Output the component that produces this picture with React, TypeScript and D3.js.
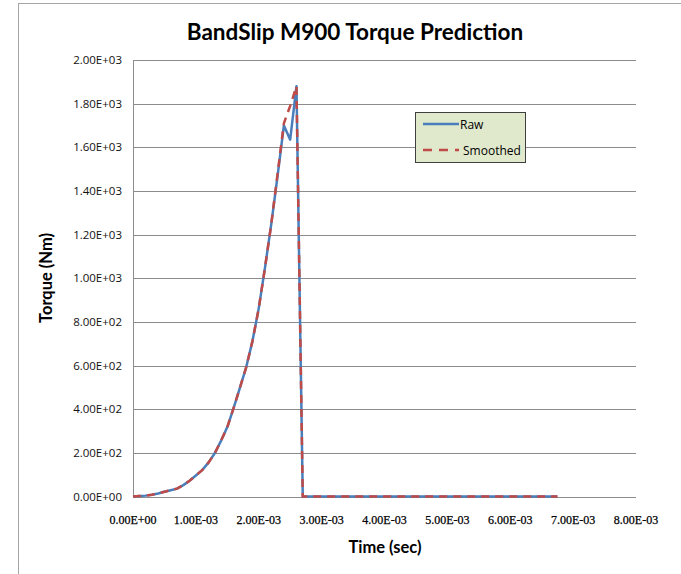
import * as d3 from 'd3';
import { useEffect, useRef } from 'react';

// time (sec) of each sample
const times = [
    0, 0.0001, 0.0002, 0.0003, 0.0004, 0.0005, 0.0006, 0.0007, 0.0008, 0.0009,
    0.0010, 0.0011, 0.0012, 0.0013, 0.0014, 0.0015, 0.0016, 0.0017, 0.0018, 0.0019,
    0.0020, 0.0021, 0.0022, 0.0023, 0.0024, 0.0025, 0.0026, 0.0027, 0.00675,
];
// torque (Nm)
const rawTorque = [
    0, 2, 4, 8, 14, 22, 29, 36, 52, 72,
    96, 121, 155, 198, 255, 318, 405, 498, 592, 712,
    862, 1050, 1250, 1470, 1700, 1635, 1880, 0, 0,
];
const smoothedTorque = [
    0, 2, 4, 8, 14, 22, 29, 36, 52, 72,
    96, 121, 155, 198, 255, 318, 405, 498, 592, 712,
    862, 1050, 1250, 1480, 1710, 1790, 1880, 0, 0,
];
const xTicks = [0, 0.001, 0.002, 0.003, 0.004, 0.005, 0.006, 0.007, 0.008];
const yTicks = [0, 200, 400, 600, 800, 1000, 1200, 1400, 1600, 1800, 2000];
const seriesNames = ['Raw', 'Smoothed'];

const BLUE = '#4a7ebb';
const RED = '#be4b48';

export default function App() {
    const ref = useRef<any>();

    useEffect(() => {
        const svg = d3.select<any, any>(ref.current);
        svg.selectAll('*').remove();

        const dims = { width: 681, height: 574, left: 133, right: 636, top: 60, bottom: 496.5 };

        // outer chart border (only top / left show in the frame)
        svg.append('rect')
            .attr('x', 18.5).attr('y', 3.5)
            .attr('width', 700).attr('height', 600)
            .attr('fill', 'white').attr('stroke', '#a6a6a6').attr('stroke-width', 1);

        const xScale = d3.scaleLinear().domain([0, 0.008]).range([dims.left, dims.right]);
        const yScale = d3.scaleLinear().domain([0, 2000]).range([dims.bottom, dims.top]);

        // gridlines
        svg.append('g').selectAll('line').data(yTicks).join('line')
            .attr('x1', dims.left).attr('x2', dims.right)
            .attr('y1', d => Math.round(yScale(d)) + 0.5).attr('y2', d => Math.round(yScale(d)) + 0.5)
            .attr('stroke', '#8c8c8c').attr('stroke-width', 1);

        svg.append('line')
            .attr('x1', dims.left + 0.5).attr('x2', dims.left + 0.5)
            .attr('y1', dims.top).attr('y2', dims.bottom)
            .attr('stroke', '#8c8c8c').attr('stroke-width', 1);

        const fmt = (v: number) => {
            const s = v.toExponential(2).toUpperCase(); // 2.00E+3
            return s.replace(/E([+-])(\d)$/, 'E$10$2');
        };

        svg.append('g').selectAll('text').data(yTicks).join('text')
            .attr('x', 122).attr('y', d => yScale(d) + 4)
            .attr('text-anchor', 'end')
            .attr('font-family', 'Open Sans, sans-serif').attr('font-size', 11.5)
            .attr('fill', '#111')
            .text(d => fmt(d));

        svg.append('g').selectAll('text').data(xTicks).join('text')
            .attr('x', d => xScale(d)).attr('y', 524)
            .attr('text-anchor', 'middle')
            .attr('font-family', 'Liberation Serif, serif').attr('font-size', 12)
            .attr('fill', '#000').attr('stroke', '#000').attr('stroke-width', 0.25)
            .text(d => fmt(d));

        // titles
        svg.append('text')
            .attr('x', 355).attr('y', 40)
            .attr('text-anchor', 'middle')
            .attr('font-family', 'Lato, sans-serif').attr('font-weight', 'bold').attr('font-size', 22.5)
            .text('BandSlip M900 Torque Prediction');
        svg.append('text')
            .attr('x', 385).attr('y', 553)
            .attr('text-anchor', 'middle')
            .attr('font-family', 'Lato, sans-serif').attr('font-weight', 'bold').attr('font-size', 16.5)
            .text('Time (sec)');
        svg.append('text')
            .attr('transform', 'translate(52, 278) rotate(-90)')
            .attr('text-anchor', 'middle')
            .attr('font-family', 'Lato, sans-serif').attr('font-weight', 'bold').attr('font-size', 16.5)
            .text('Torque (Nm)');

        const line = (vals: number[]) => d3.line<number>()
            .x((d, i) => xScale(times[i]))
            .y(d => yScale(d))(vals);

        svg.append('path')
            .attr('d', line(rawTorque))
            .attr('fill', 'none').attr('stroke', BLUE).attr('stroke-width', 2.5)
            .attr('stroke-linejoin', 'round');
        svg.append('path')
            .attr('d', line(smoothedTorque))
            .attr('fill', 'none').attr('stroke', RED).attr('stroke-width', 2.5)
            .attr('stroke-dasharray', '8,6');

        // legend
        const lg = svg.append('g');
        lg.append('rect')
            .attr('x', 415.5).attr('y', 112.5).attr('width', 110).attr('height', 50)
            .attr('fill', '#e1e9cd').attr('stroke', '#3f3f3f').attr('stroke-width', 1);
        seriesNames.forEach((name, i) => {
            const y = 124 + i * 26;
            lg.append('line')
                .attr('x1', 423).attr('x2', 459).attr('y1', y).attr('y2', y)
                .attr('stroke', i === 0 ? BLUE : RED).attr('stroke-width', 2.5)
                .attr('stroke-dasharray', i === 0 ? null : '9,7');
            lg.append('text')
                .attr('x', i === 0 ? 460 : 463).attr('y', y + 4.5)
                .attr('font-family', 'Open Sans, sans-serif').attr('font-size', 12)
                .text(name);
        });
    });

    return (
        <div style={{ position: 'absolute', left: 0, top: 0 }}>
            <svg ref={ref} width={681} height={574} style={{ display: 'block' }}></svg>
        </div>
    );
}
